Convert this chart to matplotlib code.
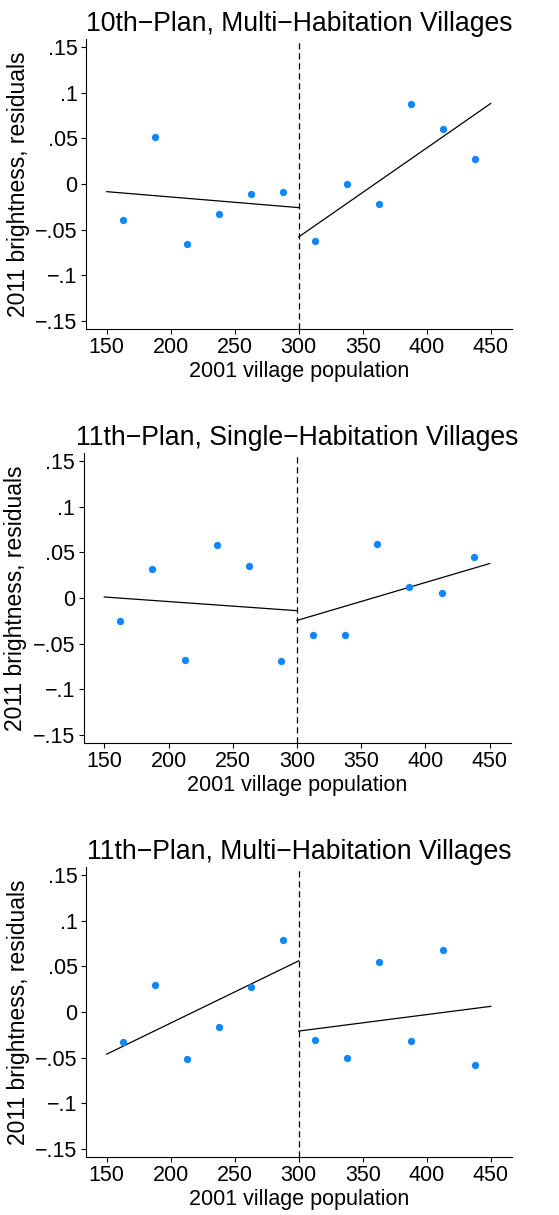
import matplotlib
matplotlib.use("Agg")
from matplotlib import pyplot as plt
from matplotlib.ticker import FuncFormatter

plt.rcParams["font.family"] = ["Liberation Sans", "DejaVu Sans"]

# bin midpoints of 2001 village population
bins = [162.5, 187.5, 212.5, 237.5, 262.5, 287.5,
        312.5, 337.5, 362.5, 387.5, 412.5, 437.5]

titles = ["10th\u2212Plan, Multi\u2212Habitation Villages",
          "11th\u2212Plan, Single\u2212Habitation Villages",
          "11th\u2212Plan, Multi\u2212Habitation Villages"]

# binned residual means
resid_10_multi = [-0.0394, 0.0515, -0.0653, -0.0332, -0.0110, -0.0091,
                  -0.0630, 0.0004, -0.0223, 0.0872, 0.0602, 0.0277]
resid_11_single = [-0.0253, 0.0323, -0.0682, 0.0583, 0.0356, -0.0693,
                   -0.0411, -0.0411, 0.0591, 0.0125, 0.0051, 0.0451]
resid_11_multi = [-0.0334, 0.0294, -0.0517, -0.0165, 0.0279, 0.0789,
                  -0.0308, -0.0503, 0.0543, -0.0323, 0.0675, -0.0576]

# linear fits either side of the 300 cutoff: (x0, y0, x1, y1)
fit_left = [(150, -0.0084, 300, -0.0259),
            (150, 0.0011, 300, -0.0139),
            (150, -0.0462, 300, 0.0561)]
fit_right = [(300, -0.0580, 450, 0.0883),
             (300, -0.0246, 450, 0.0378),
             (300, -0.0209, 450, 0.0062)]

resids = [resid_10_multi, resid_11_single, resid_11_multi]
cutoff = 300

yticks = [-0.15, -0.1, -0.05, 0, 0.05, 0.1, 0.15]


def stata_fmt(v, pos):
    if abs(v) < 1e-9:
        return "0"
    s = ("%g" % abs(v)).lstrip("0")
    return ("\u2212" if v < 0 else "") + s


fig = plt.figure(figsize=(5.59, 12.15), dpi=100)
W, H = 559.0, 1215.0
# axes boxes in pixels: left, top, right, bottom
boxes = [(86, 39, 512, 329), (83.5, 453, 511, 743), (86, 867, 512, 1157)]

for i in range(3):
    l, t, r, b = boxes[i]
    ax = fig.add_axes([l / W, 1 - b / H, (r - l) / W, (b - t) / H])

    ax.scatter(bins, resids[i], s=28, color="#1187ff", zorder=3, linewidths=0)
    x0, y0, x1, y1 = fit_left[i]
    ax.plot([x0, x1], [y0, y1], color="black", lw=0.9)
    x0, y0, x1, y1 = fit_right[i]
    ax.plot([x0, x1], [y0, y1], color="black", lw=0.9)
    ax.axvline(cutoff, color="black", lw=0.9, ls=(0, (5, 3)))

    ax.set_xlim(133.8, 466.6)
    ax.set_ylim(-0.159, 0.159)
    ax.set_xticks([150, 200, 250, 300, 350, 400, 450])
    ax.set_yticks(yticks)
    ax.yaxis.set_major_formatter(FuncFormatter(stata_fmt))
    ax.tick_params(labelsize=15.5, length=3.5, width=0.8, pad=2.5)

    ax.spines["top"].set_visible(False)
    ax.spines["right"].set_visible(False)
    ax.spines["left"].set_linewidth(0.8)
    ax.spines["bottom"].set_linewidth(0.8)

    ax.set_xlabel("2001 village population", fontsize=15.5, labelpad=2)
    ax.set_ylabel("2011 brightness, residuals", fontsize=16.5, labelpad=4)
    ax.set_title(titles[i], fontsize=19.2, pad=6)

plt.savefig("out.png", dpi=100)
